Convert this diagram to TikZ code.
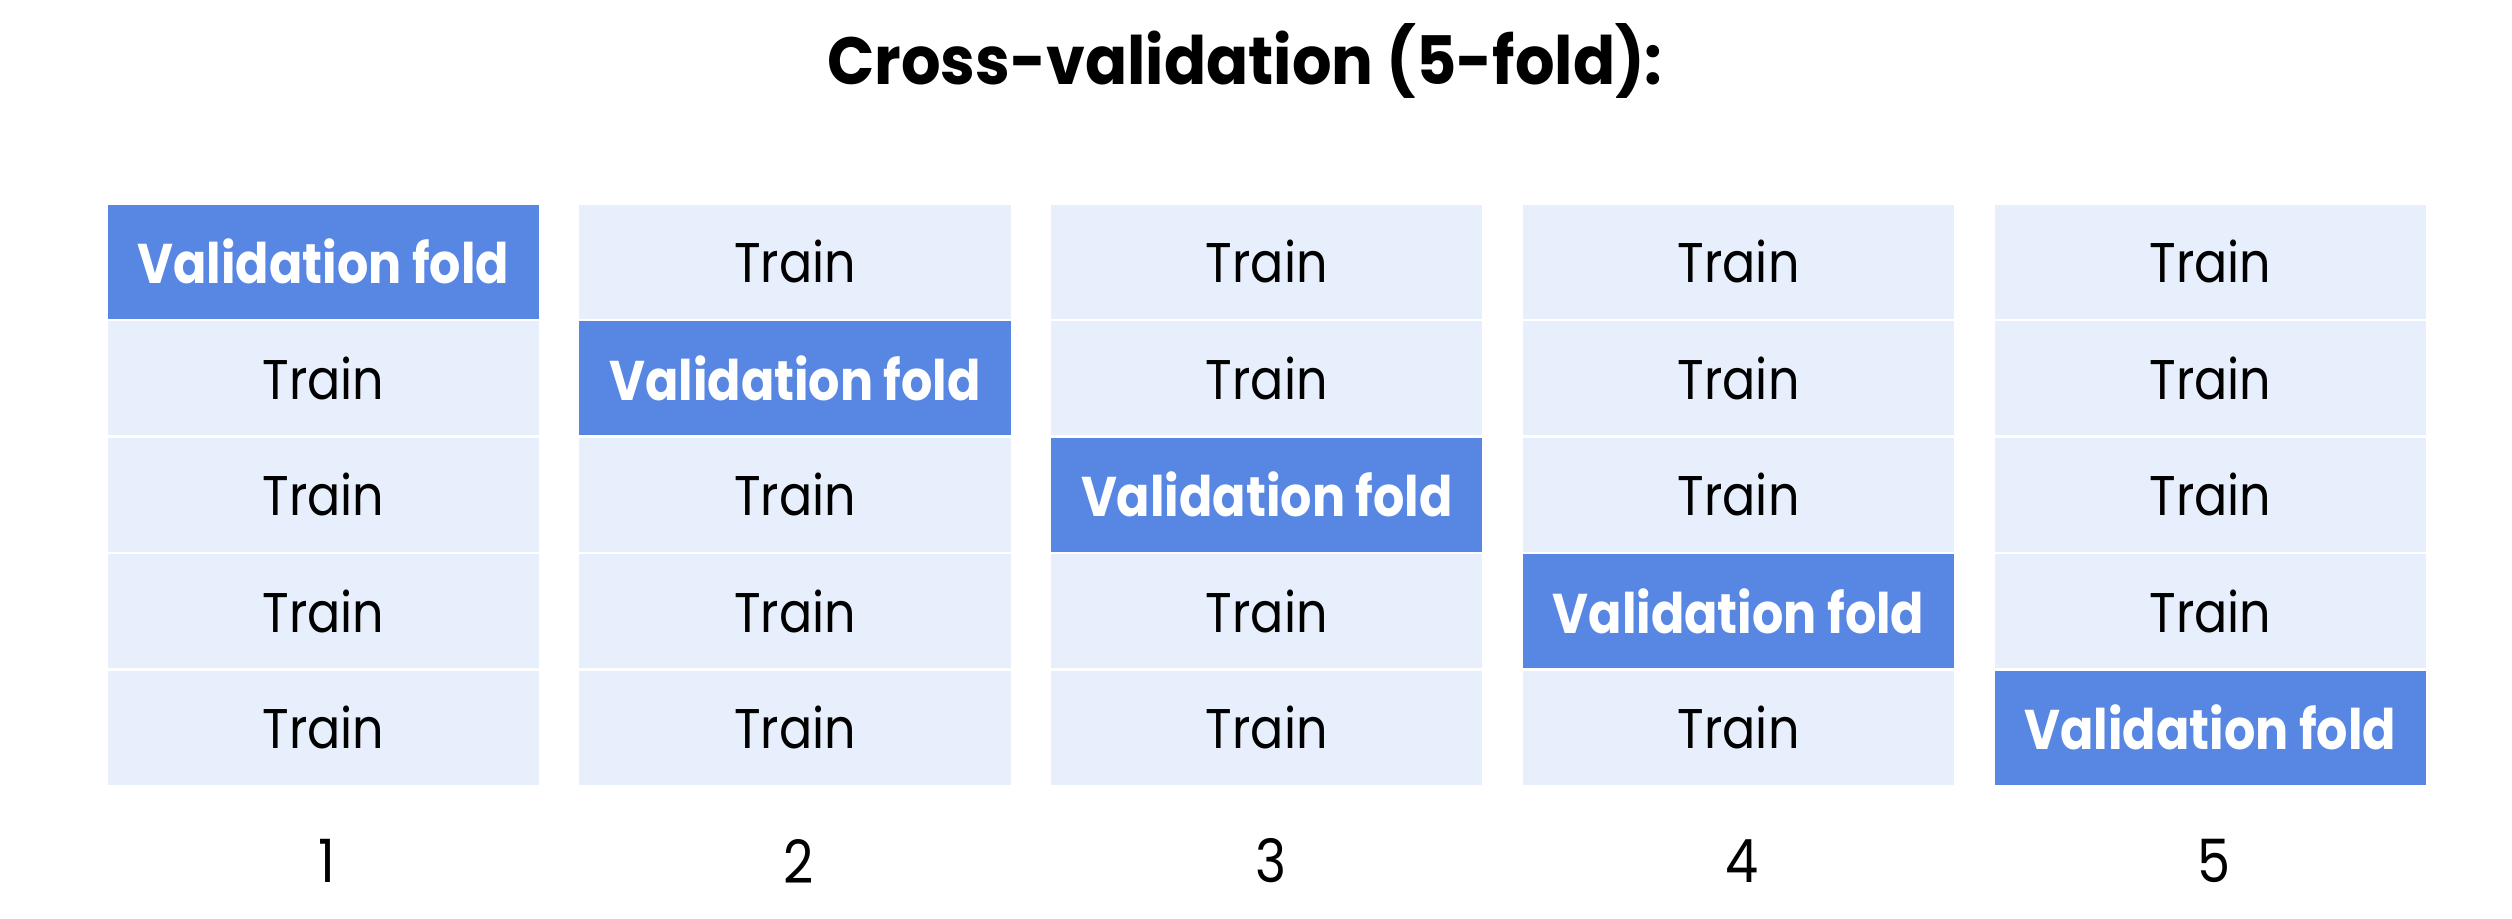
\documentclass[tikz,border=0pt]{standalone}
\usepackage{fontspec}
\setmainfont{Poppins}
\newfontfamily\cellfont{Poppins}[FakeStretch=0.88]
\newfontfamily\titlefont{Poppins}[FakeStretch=0.93]
\definecolor{valblue}{HTML}{5786E3}
\definecolor{trainblue}{HTML}{E8EFFC}
\begin{document}
\begin{tikzpicture}[x=0.01cm,y=-0.01cm,
  cell/.style={anchor=north west,inner sep=0pt,minimum width=4.31cm,minimum height=1.14cm},
  traincell/.style={cell,fill=trainblue,text=black,font=\cellfont\fontsize{15.9}{19}\selectfont},
  valcell/.style={cell,fill=valblue,text=white,font=\cellfont\fontsize{15.9}{19}\selectfont\bfseries},
  foldnum/.style={font=\cellfont\fontsize{17}{20}\selectfont,text=black},
  titletext/.style={font=\titlefont\fontsize{19}{23}\selectfont\bfseries,text=black}]
\useasboundingbox (0,0) rectangle (2512,918);
\node[titletext] (title) at (1245,61) {Cross-validation (5-fold):};
\foreach \c in {1,...,5}{
  \pgfmathsetmacro{\xl}{107+(\c-1)*471.75}
  \foreach \r in {1,...,5}{
    \pgfmathsetmacro{\yt}{204+(\r-1)*116.5}
    \ifnum\c=\r
      \node[valcell] (c\c-\r) at (\xl,\yt) {Validation fold};
    \else
      \node[traincell] (c\c-\r) at (\xl,\yt) {Train};
    \fi
  }
  \node[foldnum] (n\c) at (\xl+220,861) {\c};
}
\end{tikzpicture}
\end{document}
